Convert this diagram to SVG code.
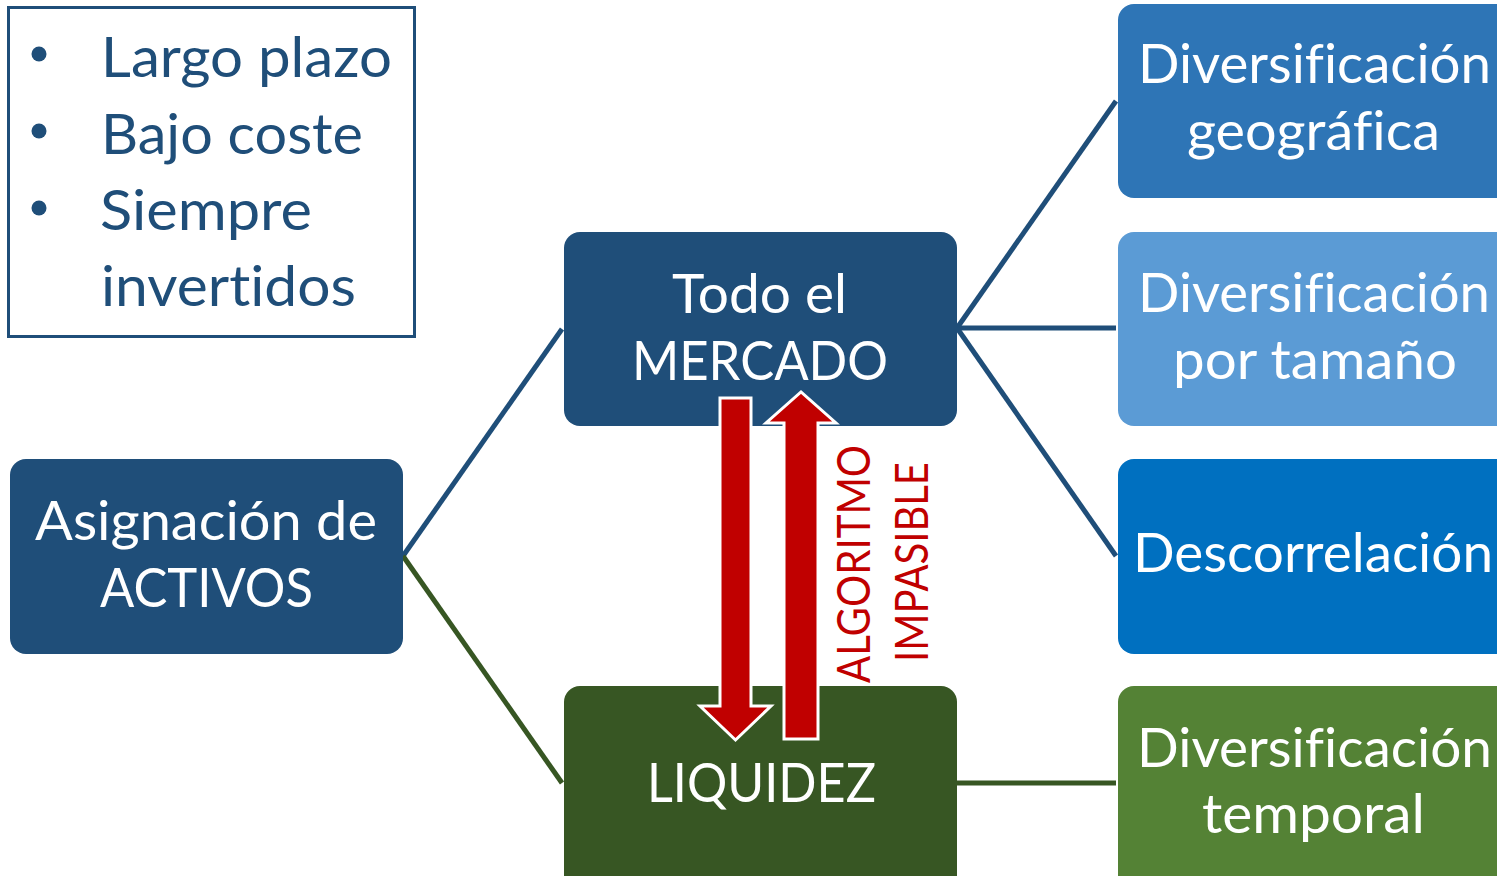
<svg xmlns="http://www.w3.org/2000/svg" width="1497" height="876" viewBox="0 0 1497 876">
<style>
text{font-variant-ligatures:none;}
.t{font-family:Lato,"Open Sans","Liberation Sans",sans-serif;fill:#fff;}
.b{font-family:Lato,"Open Sans","Liberation Sans",sans-serif;fill:#1F4E79;font-size:57px;}
.r{font-family:Lato,"Open Sans","Liberation Sans",sans-serif;fill:#C00000;font-size:46px;}
.cb{stroke:#1F4E79;stroke-width:5;fill:none;}
.cg{stroke:#375623;stroke-width:5;fill:none;}
.arr{fill:#C00000;stroke:#fff;stroke-width:3;stroke-linejoin:miter;}
</style>
<rect width="1497" height="876" fill="#fff"/>
<g id="connectors">
<line class="cb" x1="403" y1="556" x2="562" y2="329"/>
<line class="cg" x1="403" y1="556" x2="562" y2="783"/>
<line class="cb" x1="957" y1="328" x2="1116" y2="101"/>
<line class="cb" x1="957" y1="328" x2="1116" y2="328"/>
<line class="cb" x1="957" y1="328" x2="1116" y2="556"/>
<line class="cg" x1="957" y1="783" x2="1116" y2="783"/>
</g>
<g id="bullets">
<rect x="8.5" y="7.5" width="406" height="329" fill="#fff" stroke="#1F4E79" stroke-width="3"/>
<circle cx="39" cy="54" r="7.5" fill="#1F4E79"/>
<circle cx="39" cy="131" r="7.5" fill="#1F4E79"/>
<circle cx="39" cy="208" r="7.5" fill="#1F4E79"/>
<text class="b" x="101" y="77" textLength="291" lengthAdjust="spacingAndGlyphs">Largo plazo</text>
<text class="b" x="101" y="154" textLength="262" lengthAdjust="spacingAndGlyphs">Bajo coste</text>
<text class="b" x="100" y="230" textLength="212" lengthAdjust="spacingAndGlyphs">Siempre</text>
<text class="b" x="101" y="306" textLength="255" lengthAdjust="spacingAndGlyphs">invertidos</text>
</g>
<g id="asignacion">
<rect x="10" y="459" width="393" height="195" rx="16" fill="#1F4E79"/>
<text class="t" font-size="54" x="35" y="540" textLength="342" lengthAdjust="spacingAndGlyphs">Asignación de</text>
<text class="t" font-size="54" x="100" y="607" textLength="213" lengthAdjust="spacingAndGlyphs">ACTIVOS</text>
</g>
<g id="mercado">
<rect x="564" y="232" width="393" height="194" rx="16" fill="#1F4E79"/>
<text class="t" font-size="54" x="672" y="313" textLength="175" lengthAdjust="spacingAndGlyphs">Todo el</text>
<text class="t" font-size="54" x="632" y="380" textLength="256" lengthAdjust="spacingAndGlyphs">MERCADO</text>
</g>
<g id="liquidez">
<rect x="564" y="686" width="393" height="205" rx="16" fill="#375623"/>
<text class="t" font-size="54" x="647" y="802" textLength="229" lengthAdjust="spacingAndGlyphs">LIQUIDEZ</text>
</g>
<g id="geografica">
<rect x="1118" y="4" width="400" height="194" rx="16" fill="#2E75B6"/>
<text class="t" font-size="54" x="1138" y="83" textLength="353" lengthAdjust="spacingAndGlyphs">Diversificación</text>
<text class="t" font-size="54" x="1187" y="150" textLength="253" lengthAdjust="spacingAndGlyphs">geográfica</text>
</g>
<g id="tamano">
<rect x="1118" y="232" width="400" height="194" rx="16" fill="#5B9BD5"/>
<text class="t" font-size="54" x="1138" y="312" textLength="352" lengthAdjust="spacingAndGlyphs">Diversificación</text>
<text class="t" font-size="54" x="1173" y="379" textLength="284" lengthAdjust="spacingAndGlyphs">por tamaño</text>
</g>
<g id="descorrelacion">
<rect x="1118" y="459" width="400" height="195" rx="16" fill="#0070C0"/>
<text class="t" font-size="54" x="1133" y="572" textLength="360" lengthAdjust="spacingAndGlyphs">Descorrelación</text>
</g>
<g id="temporal">
<rect x="1118" y="686" width="400" height="205" rx="16" fill="#548235"/>
<text class="t" font-size="54" x="1137" y="767" textLength="355" lengthAdjust="spacingAndGlyphs">Diversificación</text>
<text class="t" font-size="54" x="1202" y="833" textLength="223" lengthAdjust="spacingAndGlyphs">temporal</text>
</g>
<g id="arrows">
<polygon class="arr" points="720,398 751,398 751,706 771,706 735.5,740 700,706 720,706"/>
<polygon class="arr" points="784,739 818,739 818,423 836,423 801,392 766,423 784,423"/>
</g>
<g id="algoritmo">
<text class="r" transform="translate(870,683) rotate(-90)" x="0" y="0" textLength="238" lengthAdjust="spacingAndGlyphs">ALGORITMO</text>
<text class="r" transform="translate(928,662) rotate(-90)" x="0" y="0" textLength="200" lengthAdjust="spacingAndGlyphs">IMPASIBLE</text>
</g>
</svg>
